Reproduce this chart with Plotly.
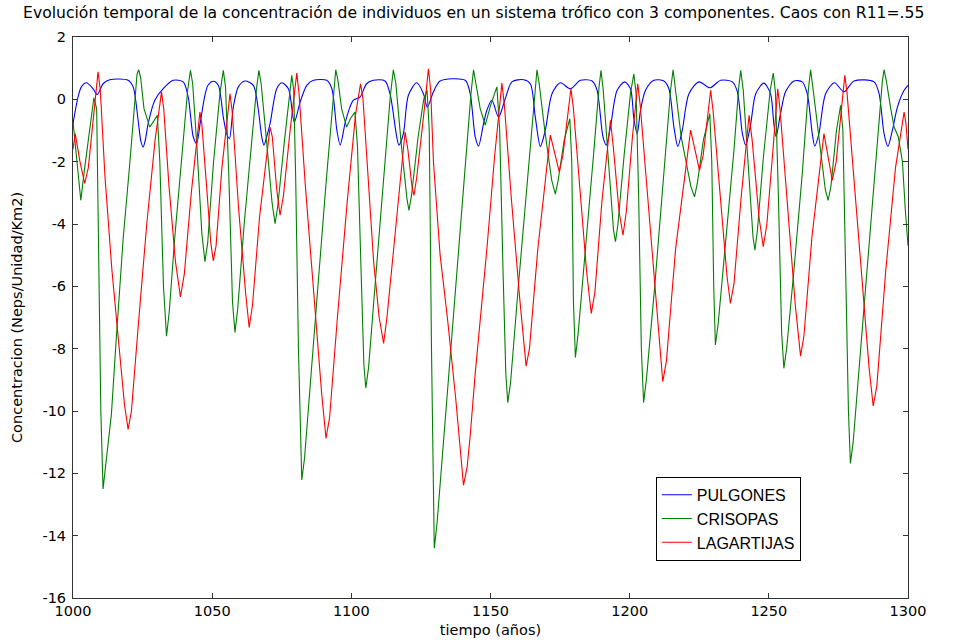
import plotly.graph_objects as go

# ---------------- data ----------------
pulgones_t = [1000.0, 1001.8, 1003.0, 1004.8, 1007.2, 1008.7, 1010.8, 1013.2, 1019.8, 1021.6,
              1023.4, 1024.4, 1025.2, 1026.0, 1027.0, 1029.4, 1032.4, 1036.0, 1039.6, 1041.4,
              1043.2, 1044.4, 1045.8, 1047.4, 1048.5, 1050.4, 1052.2, 1054.0, 1055.2, 1056.2,
              1057.6, 1059.4, 1061.8, 1064.8, 1066.6, 1067.8, 1068.6, 1069.6, 1070.8, 1073.2,
              1075.0, 1077.4, 1079.5, 1081.6, 1084.0, 1086.4, 1091.2, 1093.0, 1094.8, 1096.0,
              1097.8, 1099.5, 1100.7, 1103.1, 1105.5, 1107.9, 1112.1, 1113.9, 1116.3, 1117.1,
              1118.7, 1120.5, 1123.5, 1125.9, 1127.3, 1129.5, 1131.9, 1140.9, 1142.7, 1144.5,
              1145.7, 1147.5, 1148.7, 1150.5, 1152.9, 1155.3, 1157.7, 1161.9, 1164.3, 1166.1,
              1167.9, 1169.7, 1172.1, 1175.1, 1178.7, 1182.3, 1186.5, 1188.3, 1190.4, 1191.6,
              1193.1, 1195.5, 1198.2, 1200.3, 1201.5, 1202.7, 1203.9, 1205.7, 1208.7, 1212.3,
              1214.1, 1215.9, 1217.3, 1218.9, 1221.3, 1224.9, 1228.8, 1232.7, 1236.9, 1238.7,
              1240.5, 1241.7, 1243.5, 1245.3, 1248.2, 1250.6, 1251.8, 1252.6, 1254.2, 1256.0,
              1259.0, 1262.0, 1263.8, 1265.6, 1266.5, 1268.0, 1270.4, 1273.6, 1277.0, 1280.6,
              1287.8, 1289.6, 1291.4, 1292.8, 1294.4, 1296.2, 1298.6, 1300.0]
pulgones_v = [-0.78, 0.07, 0.40, 0.53, 0.34, 0.15, 0.50, 0.63, 0.61, 0.40,
              -0.67, -1.35, -1.53, -1.30, -0.78, -0.03, 0.34, 0.61, 0.56, 0.07,
              -1.20, -1.42, -0.70, 0.13, 0.45, 0.58, 0.45, -0.57, -1.10, -1.26,
              -0.25, 0.40, 0.59, 0.45, -0.35, -1.20, -1.47, -1.20, -0.78, 0.34,
              0.53, 0.34, -0.73, -0.09, 0.45, 0.61, 0.61, 0.34, -0.99, -1.47,
              -0.75, -0.25, -0.03, 0.07, 0.50, 0.61, 0.59, 0.18, -1.20, -1.47,
              -1.10, 0.13, 0.53, 0.18, -0.25, 0.24, 0.59, 0.61, 0.18, -1.20,
              -1.50, -0.78, -0.35, -0.03, -0.57, 0.02, 0.56, 0.63, 0.50, -0.57,
              -1.51, -0.99, 0.18, 0.53, 0.34, 0.61, 0.59, 0.29, -1.20, -1.47,
              -0.89, 0.29, 0.56, 0.34, -0.62, -1.10, -0.35, 0.29, 0.61, 0.59,
              0.34, -0.89, -1.51, -0.99, 0.18, 0.56, 0.37, 0.61, 0.56, 0.24,
              -1.10, -1.47, -0.78, 0.18, 0.52, 0.18, -0.78, -1.20, -0.46, 0.24,
              0.59, 0.56, 0.18, -1.10, -1.50, -1.10, 0.18, 0.53, 0.24, 0.59,
              0.56, 0.18, -1.10, -1.51, -0.99, -0.25, 0.29, 0.45]

crisopas_t = [1000.0, 1001.5, 1002.8, 1004.2, 1006.0, 1007.5, 1008.5, 1009.2, 1010.0, 1010.8,
              1011.6, 1013.8, 1015.6, 1018.0, 1020.4, 1022.2, 1023.0, 1023.6, 1024.3, 1025.5,
              1027.6, 1029.0, 1030.3, 1031.2, 1032.5, 1033.6, 1034.6, 1036.5, 1039.0, 1041.2,
              1042.2, 1043.0, 1044.5, 1046.3, 1047.4, 1048.4, 1050.5, 1052.8, 1054.0, 1054.8,
              1056.0, 1057.3, 1058.2, 1059.2, 1061.5, 1064.5, 1066.0, 1066.8, 1067.6, 1069.5,
              1071.5, 1072.6, 1073.6, 1076.0, 1077.8, 1078.6, 1079.3, 1080.0, 1081.0, 1082.2,
              1083.2, 1085.5, 1088.0, 1091.0, 1093.5, 1094.4, 1095.2, 1096.5, 1098.3, 1099.8,
              1101.3, 1102.2, 1103.5, 1104.5, 1105.2, 1106.2, 1108.5, 1111.5, 1114.0, 1115.1,
              1116.0, 1118.0, 1120.0, 1120.7, 1121.6, 1124.0, 1126.0, 1127.2, 1128.0, 1128.8,
              1129.8, 1130.8, 1133.5, 1136.5, 1140.0, 1143.0, 1143.9, 1144.8, 1146.3, 1148.1,
              1150.0, 1152.3, 1153.3, 1154.5, 1155.5, 1156.2, 1157.2, 1160.0, 1163.0, 1165.8,
              1166.7, 1167.5, 1169.5, 1172.0, 1173.3, 1174.3, 1176.5, 1178.5, 1179.2, 1179.8,
              1180.5, 1181.5, 1184.0, 1187.0, 1189.0, 1189.7, 1190.5, 1192.5, 1194.2, 1194.9,
              1195.8, 1198.0, 1200.3, 1201.5, 1202.3, 1203.2, 1204.2, 1205.0, 1206.0, 1209.0,
              1212.0, 1214.7, 1215.6, 1216.4, 1218.5, 1222.0, 1223.3, 1224.3, 1226.5, 1228.8,
              1229.5, 1230.2, 1230.8, 1231.8, 1234.5, 1237.5, 1239.2, 1239.9, 1240.8, 1242.8,
              1244.3, 1245.0, 1245.9, 1248.0, 1250.5, 1251.6, 1252.4, 1253.4, 1254.6, 1255.4,
              1256.4, 1259.0, 1262.0, 1264.2, 1265.0, 1265.8, 1268.0, 1270.3, 1271.3, 1272.3,
              1274.3, 1275.8, 1276.6, 1277.6, 1278.6, 1279.3, 1280.3, 1283.0, 1286.5, 1289.5,
              1290.8, 1291.4, 1292.2, 1293.8, 1295.0, 1296.5, 1298.0, 1299.0, 1300.0]
crisopas_v = [-0.70, -2.20, -3.24, -2.20, -0.90, 0.05, -0.30, -4.50, -10.00, -12.50,
              -11.80, -10.10, -7.60, -4.50, -2.06, 0.07, 0.80, 0.95, 0.70, -0.30,
              -0.89, -0.70, -0.51, -2.00, -6.00, -7.60, -6.80, -4.50, -1.80, 0.30,
              0.93, 0.50, -1.50, -4.30, -5.21, -4.60, -2.00, 0.20, 0.93, 0.40,
              -2.50, -6.50, -7.48, -6.70, -4.00, -1.00, 0.40, 0.93, 0.50, -1.30,
              -3.30, -3.99, -3.40, -1.30, 0.20, 0.77, 0.30, -2.50, -8.00, -12.21,
              -11.50, -9.00, -6.00, -2.60, 0.20, 0.95, 0.60, -0.30, -0.89, -0.60,
              -0.41, -1.50, -5.50, -8.50, -9.27, -8.60, -6.00, -2.80, 0.10, 0.95,
              0.50, -1.50, -3.20, -3.56, -3.10, -1.20, 0.00, 0.30, -1.00, -8.00,
              -14.40, -13.60, -10.50, -7.20, -3.00, 0.20, 0.95, 0.50, -0.30, -0.83,
              -0.20, 0.40, -1.00, -5.50, -8.80, -9.73, -9.10, -6.00, -2.80, 0.20,
              0.95, 0.50, -1.00, -2.60, -3.04, -2.60, -1.30, -0.62, -2.00, -6.50,
              -8.28, -7.50, -5.00, -1.80, 0.40, 0.93, 0.30, -2.30, -4.20, -4.57,
              -4.00, -1.80, 0.20, 0.82, 0.20, -3.00, -8.00, -9.73, -9.00, -6.00,
              -2.70, 0.30, 0.95, 0.40, -1.20, -2.80, -3.13, -2.70, -1.30, -0.46,
              -2.00, -6.00, -7.88, -7.20, -4.60, -1.60, 0.40, 0.93, 0.30, -2.40,
              -4.40, -4.84, -4.20, -1.90, 0.30, 0.84, 0.20, -3.00, -7.50, -8.63,
              -8.00, -5.50, -2.40, 0.30, 0.95, 0.40, -1.20, -2.90, -3.24, -2.80,
              -1.00, -0.19, -1.00, -5.00, -10.00, -11.68, -11.00, -8.00, -4.00, -0.60,
              0.60, 0.95, 0.60, -0.30, -0.89, -1.20, -2.00, -3.50, -4.70]

lagartijas_t = [1000.0, 1000.8, 1002.5, 1004.2, 1005.5, 1007.5, 1009.0, 1009.8, 1011.5, 1014.0,
                1016.5, 1018.5, 1019.8, 1021.0, 1023.5, 1026.5, 1029.5, 1031.8, 1032.6, 1034.5,
                1036.8, 1038.6, 1040.0, 1042.5, 1045.6, 1046.3, 1048.0, 1049.5, 1050.4, 1051.4,
                1053.5, 1056.4, 1057.2, 1059.5, 1062.0, 1063.3, 1064.5, 1067.0, 1070.8, 1071.6,
                1073.2, 1074.4, 1075.6, 1078.0, 1080.4, 1081.2, 1083.5, 1086.5, 1089.3, 1090.9,
                1092.2, 1095.0, 1098.5, 1101.5, 1103.3, 1104.2, 1106.0, 1108.0, 1110.0, 1111.6,
                1112.8, 1115.0, 1119.3, 1120.3, 1121.8, 1122.5, 1123.5, 1126.0, 1127.7, 1128.5,
                1129.5, 1131.9, 1134.5, 1137.5, 1140.3, 1141.6, 1142.7, 1144.5, 1146.3, 1148.7,
                1151.5, 1154.1, 1155.0, 1157.5, 1160.5, 1162.8, 1164.0, 1167.0, 1171.5, 1172.8,
                1174.7, 1176.0, 1178.9, 1179.8, 1182.0, 1184.5, 1186.2, 1187.5, 1190.0, 1193.1,
                1194.2, 1196.2, 1197.6, 1198.8, 1201.0, 1202.9, 1203.8, 1206.5, 1209.5, 1211.9,
                1213.2, 1216.5, 1221.9, 1223.2, 1225.1, 1226.4, 1229.1, 1230.0, 1232.5, 1235.0,
                1236.2, 1237.5, 1240.0, 1242.9, 1244.0, 1246.5, 1248.0, 1249.3, 1251.5, 1253.2,
                1254.0, 1256.5, 1259.5, 1261.4, 1262.6, 1265.5, 1269.8, 1271.2, 1272.8, 1274.2,
                1277.3, 1278.1, 1280.5, 1283.5, 1286.0, 1287.5, 1288.8, 1292.0, 1295.5, 1298.6,
                1299.3, 1300.0]
lagartijas_v = [-1.60, -1.10, -2.00, -2.70, -2.20, -0.50, 0.88, 0.30, -2.50, -5.50,
                -8.00, -9.80, -10.59, -10.00, -7.20, -4.00, -1.30, 0.24, -0.30, -2.80,
                -5.20, -6.34, -5.60, -3.00, -0.41, -0.80, -2.80, -4.60, -5.18, -4.70,
                -2.20, 0.18, -0.40, -3.50, -6.20, -7.32, -6.60, -3.80, -0.89, -1.20,
                -2.90, -3.72, -3.10, -1.00, 0.84, 0.20, -2.80, -6.20, -9.40, -10.88,
                -10.20, -7.00, -3.30, -0.50, 0.50, 0.00, -2.50, -5.20, -7.00, -7.83,
                -7.00, -4.90, -1.05, -1.60, -2.80, -3.08, -2.50, -0.50, 0.98, 0.30,
                -2.00, -5.00, -7.00, -9.60, -12.38, -11.80, -10.80, -8.80, -7.10, -4.80,
                -1.80, 0.52, -0.20, -3.20, -6.40, -8.56, -8.00, -4.80, -1.15, -1.60,
                -2.33, -1.80, 0.34, -0.30, -2.80, -5.50, -6.87, -6.20, -3.30, -0.67,
                -1.60, -3.60, -4.36, -3.60, -1.20, 0.50, -0.20, -3.20, -6.60, -9.06,
                -8.40, -4.80, -0.99, -1.50, -2.28, -1.80, 0.29, -0.40, -3.20, -5.70,
                -6.55, -5.90, -3.20, -0.51, -1.30, -3.80, -4.73, -4.00, -1.60, 0.34,
                -0.30, -3.20, -6.60, -8.24, -7.60, -4.40, -1.10, -1.80, -2.60, -2.00,
                0.77, 0.20, -2.60, -5.80, -8.60, -9.84, -9.20, -5.50, -2.20, -0.41,
                -0.80, -1.60]

series_names = ["PULGONES", "CRISOPAS", "LAGARTIJAS"]
x_ticks = [1000, 1050, 1100, 1150, 1200, 1250, 1300]
y_ticks = [-16, -14, -12, -10, -8, -6, -4, -2, 0, 2]
y_tick_labels = ["-16", "-14", "-12", "-10", "-8", "-6", "-4", "-2", "0", "2"]

title_text = ("Evolución temporal de la concentración de individuos en un sistema trófico "
              "con 3 componentes. Caos con R11=.55")
x_label = "tiempo (años)"
y_label = "Concentracion (Neps/Unidad/Km2)"

# ---------------- figure ----------------
FONT = "DejaVu Sans, Liberation Sans, Arial, sans-serif"
LFONT = "Liberation Sans, Arial, sans-serif"
fig = go.Figure()
fig.add_trace(go.Scatter(x=pulgones_t, y=pulgones_v, mode="lines", name=series_names[0],
                         line=dict(color="#0000ff", width=1.1, shape="spline", smoothing=0.8)))
fig.add_trace(go.Scatter(x=crisopas_t, y=crisopas_v, mode="lines", name=series_names[1],
                         line=dict(color="#008000", width=1.1)))
fig.add_trace(go.Scatter(x=lagartijas_t, y=lagartijas_v, mode="lines", name=series_names[2],
                         line=dict(color="#ff0000", width=1.1)))

axis_common = dict(showgrid=False, zeroline=False, showline=True, linecolor="#333333",
                   linewidth=1, mirror="ticks", ticks="inside", ticklen=5, automargin=False,
                   tickcolor="#333333", tickfont=dict(family=FONT, size=14.5, color="#000000"))

fig.update_layout(
    width=959, height=643,
    margin=dict(l=73, r=51, t=37, b=45, pad=0),
    paper_bgcolor="white", plot_bgcolor="white",
    font=dict(family=FONT, size=14, color="#000000"),
    title=dict(text=title_text, x=0.494, xref="container", xanchor="center",
               y=1 - 13 / 643, yref="container", yanchor="middle",
               font=dict(family=FONT, size=15.6, color="#000000")),
    xaxis=dict(range=[1000, 1300], tickvals=x_ticks,
               title=dict(text=x_label, standoff=6, font=dict(family=FONT, size=14.5)),
               **axis_common),
    yaxis=dict(range=[-16, 2], tickvals=y_ticks, ticktext=y_tick_labels, ticklabelstandoff=3,
               title=dict(text=y_label, standoff=16, font=dict(family=FONT, size=14.5)),
               **axis_common),
    legend=dict(x=0.698, y=0.216, xanchor="left", yanchor="top",
                bgcolor="white", bordercolor="#000000", borderwidth=1,
                font=dict(family=LFONT, size=16), tracegroupgap=0,
                itemwidth=30),
    showlegend=True,
)

fig.write_html("out.html")
